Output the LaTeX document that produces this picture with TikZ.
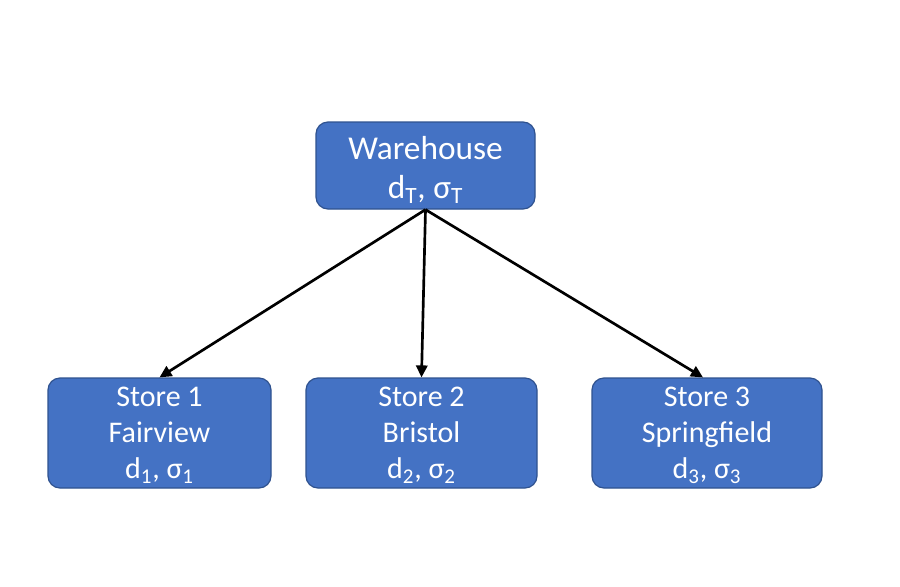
\documentclass[tikz,border=0pt]{standalone}
\usepackage{fontspec}
\setmainfont{Carlito}
\usetikzlibrary{arrows.meta,calc}
\definecolor{boxfill}{HTML}{4472C4}
\definecolor{boxline}{HTML}{2F528F}
\newcommand{\sbs}[1]{\textsubscript{#1}}
\newcommand{\txtlines}[2]{\raisebox{#1}[\height][\depth]{\begin{tabular}{@{}c@{}}#2\end{tabular}}}
\begin{document}
\begin{tikzpicture}[x=0.75pt,y=-0.75pt,
  box/.style={draw=boxline, line width=0.9pt, fill=boxfill, rounded corners=9pt,
    text=white, inner sep=0pt},
  conn/.style={line width=2pt, -{Triangle[length=9pt,width=8.5pt]}}]
\useasboundingbox (0,0) rectangle (900,586);
\fill[white] (0,0) rectangle (900,586);
\node[box, minimum width=164.25pt, minimum height=65.25pt,
  font=\fontsize{25}{29}\selectfont] (wh) at (425.5,165.5)
  {\txtlines{-4.5pt}{Warehouse\\d\sbs{T}, σ\sbs{T}}};
\node[box, minimum width=167.25pt, minimum height=82.5pt,
  font=\fontsize{22.5}{27}\selectfont] (s1) at (159.5,433)
  {\txtlines{-2pt}{Store 1\\Fairview\\d\sbs{1}, σ\sbs{1}}};
\node[box, minimum width=173.25pt, minimum height=82.5pt,
  font=\fontsize{22.5}{27}\selectfont] (s2) at (421.5,433)
  {\txtlines{-2pt}{Store 2\\Bristol\\d\sbs{2}, σ\sbs{2}}};
\node[box, minimum width=172.5pt, minimum height=82.5pt,
  font=\fontsize{22.5}{27}\selectfont] (s3) at (707,433)
  {\txtlines{-2pt}{Store 3\\Springfield\\d\sbs{3}, σ\sbs{3}}};
\draw[conn] (wh.south) -- (s1.north);
\draw[conn] (wh.south) -- (s2.north);
\draw[conn] (wh.south) -- ($(s3.north)+(-4,0)$);
\end{tikzpicture}
\end{document}
